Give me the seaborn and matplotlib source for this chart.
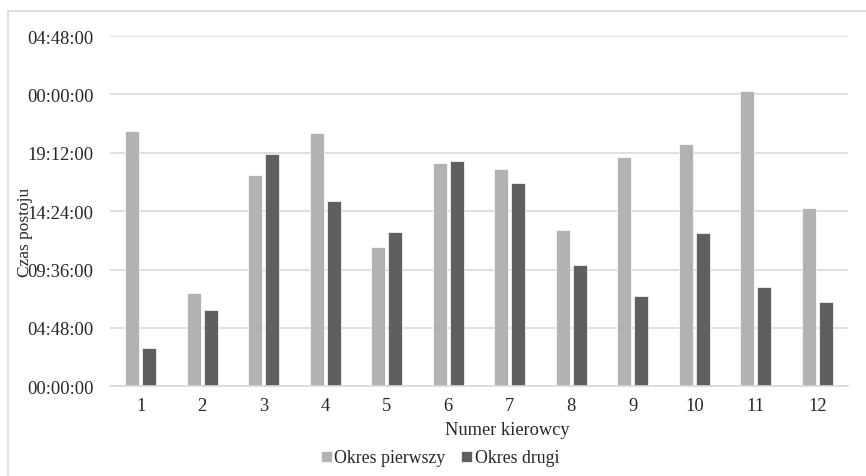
import matplotlib
matplotlib.use("Agg")
import matplotlib.pyplot as plt
import matplotlib.ticker as mticker
from matplotlib.patches import Rectangle
import seaborn as sns
import pandas as pd

sns.set_theme(style="white")
plt.rcParams['font.family'] = ['Liberation Serif', 'DejaVu Serif']

# idle time in hours per driver
drivers = [str(i) for i in range(1, 13)]
okres_pierwszy = [20.95, 7.67, 17.39, 20.81, 11.42, 18.35, 17.83, 12.84, 18.82, 19.94, 24.29, 14.65]
okres_drugi = [3.15, 6.27, 19.09, 15.25, 12.70, 18.51, 16.70, 9.97, 7.45, 12.60, 8.19, 6.93]
series = ["Okres pierwszy", "Okres drugi"]

df = pd.DataFrame({
    "kierowca": drivers * 2,
    "okres": [series[0]] * 12 + [series[1]] * 12,
    "godziny": okres_pierwszy + okres_drugi,
})

W, H = 866, 477
fig = plt.figure(figsize=(W / 100, H / 100), dpi=100)
ax = fig.add_axes([110 / W, 1 - 387.3 / H, (848 - 110) / W, (387.3 - 37) / H])

sns.barplot(data=df, x="kierowca", y="godziny", hue="okres",
            palette=["#b2b2b2", "#5f5f5f"], width=0.55, gap=0.18,
            edgecolor="white", linewidth=0.5, ax=ax, legend=True)

ax.set_ylim(0, 28.8)
ax.set_xlim(-0.5, 11.5)
ax.yaxis.set_major_locator(mticker.MultipleLocator(4.8))


def fmt(v, pos):
    total = int(round(v * 60))
    h = (total // 60) % 24
    m = total % 60
    return "%02d:%02d:00" % (h, m)


ax.yaxis.set_major_formatter(mticker.FuncFormatter(fmt))
ax.grid(axis="y", color="#d9d9d9", linewidth=1.2)
ax.set_axisbelow(True)
for s in ["top", "right", "left"]:
    ax.spines[s].set_visible(False)
ax.spines["bottom"].set_color("#d9d9d9")
ax.spines["bottom"].set_linewidth(1.2)
ax.tick_params(axis="y", length=0, pad=12, labelsize=13.3, colors="#262626")
ax.tick_params(axis="x", length=0, pad=8, labelsize=13.3, colors="#262626")
ax.set_xlabel("")
ax.set_ylabel("")

fig.text(507 / W, 1 - 431 / H, "Numer kierowcy", ha="center", va="center",
         fontsize=13.2, color="#262626")
fig.text(25 / W, 1 - 232 / H, "Czas postoju", ha="center", va="center",
         rotation=90, fontsize=12.5, color="#262626")

leg = ax.legend(loc="center", bbox_to_anchor=(440 / W, 1 - 459 / H),
                bbox_transform=fig.transFigure, ncol=2, frameon=False,
                fontsize=12.8, handlelength=0.6, handleheight=0.6,
                handletextpad=0.15, columnspacing=0.9)
for t in leg.get_texts():
    t.set_color("#262626")

fig.patches.append(Rectangle((8 / W, -0.1), 1.2, 1 - 12 / H + 0.1,
                             transform=fig.transFigure, fill=False,
                             edgecolor="#d9d9d9", linewidth=1.2))

fig.savefig("out.png", dpi=100)
